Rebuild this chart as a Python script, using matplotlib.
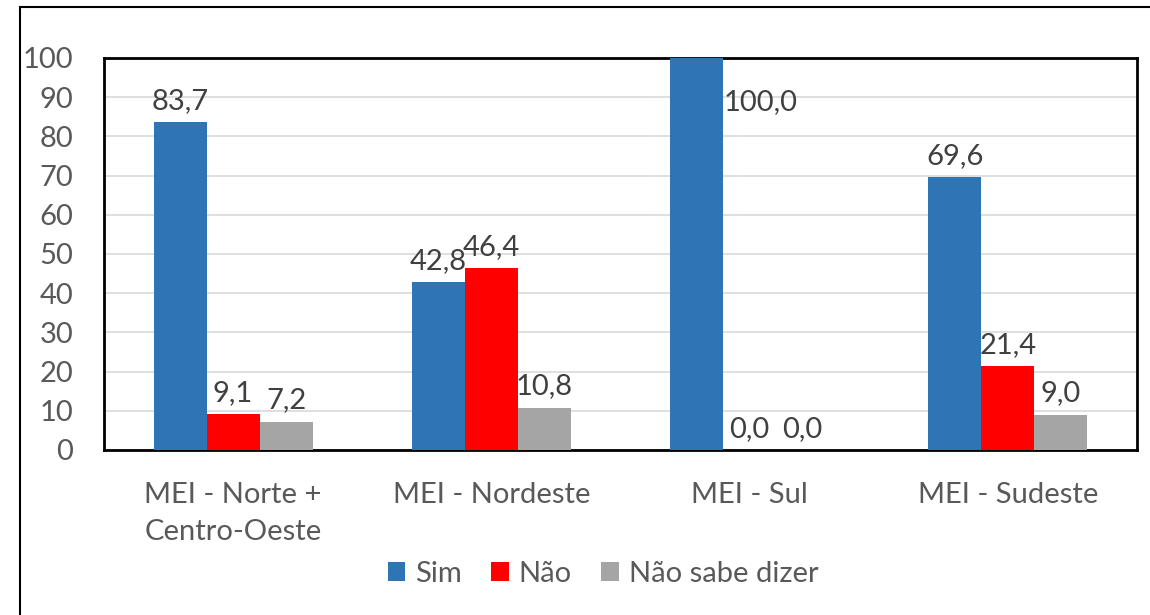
import numpy as np
import matplotlib
matplotlib.use("Agg")
import matplotlib.pyplot as plt
from matplotlib.patches import Rectangle

plt.rcParams["font.family"] = ["Lato", "DejaVu Sans"]

# ── Data ──
categories = ["MEI - Norte +\nCentro-Oeste", "MEI - Nordeste", "MEI - Sul", "MEI - Sudeste"]
series_names = ["Sim", "Não", "Não sabe dizer"]
sim = [83.7, 42.8, 100.0, 69.6]
nao = [9.1, 46.4, 0.0, 21.4]
nao_sabe = [7.2, 10.8, 0.0, 9.0]
colors = ["#2E75B6", "#FF0000", "#A5A5A5"]
yticks = list(range(0, 101, 10))

FS = 21

fig = plt.figure(figsize=(11.5, 6.15), dpi=100)
ax = fig.add_axes([104 / 1150, 1 - 450 / 615, 1033 / 1150, 392 / 615])

# outer chart frame (cropped at right / bottom as in source)
fig.patches.append(Rectangle((20 / 1150, -0.1), 1.2, 1 - 7 / 615 + 0.1,
                             transform=fig.transFigure, fill=False,
                             edgecolor="black", linewidth=1.5, zorder=0))

x = np.arange(len(categories))
w = 0.205
label_color = "#404040"

for i, (vals, name, col) in enumerate(zip([sim, nao, nao_sabe], series_names, colors)):
    pos = x + (i - 1) * w
    ax.bar(pos, vals, width=w, color=col, label=name, zorder=3)
    for xp, v in zip(pos, vals):
        txt = f"{v:.1f}".replace(".", ",")
        if v >= 100:
            # Excel pushes the label to the side when it hits the top
            ax.annotate(txt, (xp + w / 2, v), xytext=(0, -22), textcoords="offset points",
                        ha="left", va="top", fontsize=FS, color=label_color)
        else:
            ax.annotate(txt, (xp, v), xytext=(0, 6), textcoords="offset points",
                        ha="center", va="bottom", fontsize=FS, color=label_color)

ax.set_xlim(-0.5, len(categories) - 0.5)
ax.set_ylim(0, 100)
ax.set_yticks(yticks)
ax.set_xticks(x)
ax.set_xticklabels(categories, fontsize=FS, color="#595959", linespacing=1.55)
ax.tick_params(axis="y", length=0, pad=22, labelsize=FS, labelcolor="#595959")
ax.tick_params(axis="x", length=0, pad=23)
ax.yaxis.grid(True, color="#D9D9D9", linewidth=1.2, zorder=0)
ax.set_axisbelow(True)
for sp in ax.spines.values():
    sp.set_color("black")
    sp.set_linewidth(2)

leg = fig.legend(loc="center", bbox_to_anchor=(603 / 1150, 1 - 574 / 615), ncol=3,
                 frameon=False, fontsize=FS, handlelength=0.6, handleheight=0.6,
                 handletextpad=0.35, columnspacing=1.0)
for t in leg.get_texts():
    t.set_color("#595959")

fig.savefig("out.png", dpi=100)
